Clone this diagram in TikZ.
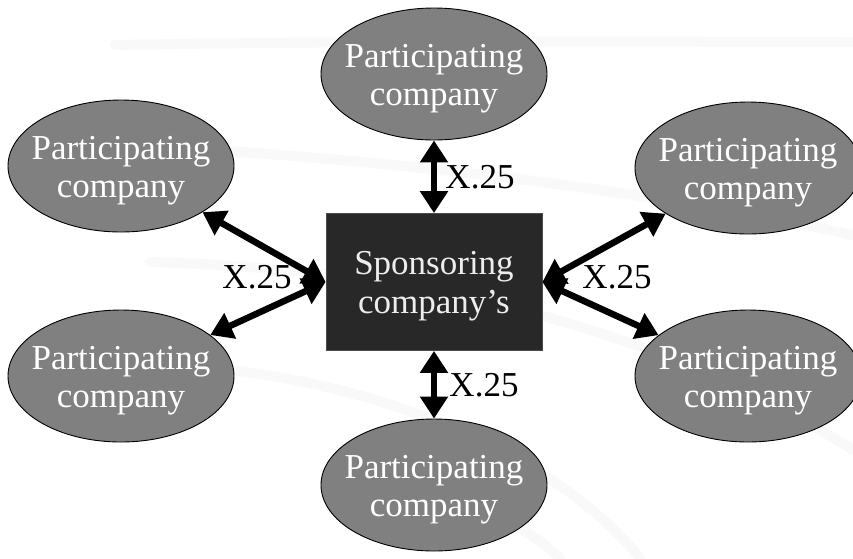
\documentclass[tikz,border=0pt]{standalone}
\usepackage{fontspec}
\setmainfont{Liberation Serif}
\usetikzlibrary{arrows.meta,shapes.geometric}
\definecolor{ellfill}{HTML}{808080}
\definecolor{boxfill}{HTML}{282828}
\definecolor{bgarc}{HTML}{F9F9F9}
\tikzset{
  partco/.style={ellipse, draw=black, line width=0.9pt, fill=ellfill,
    minimum width=226pt, minimum height=132pt, inner sep=0pt},
  ptext/.style={text=white, inner sep=0pt, align=center,
    font=\fontsize{35}{38.5}\selectfont},
  sponsor/.style={rectangle, draw=black!70, line width=0.8pt, fill=boxfill,
    minimum width=216pt, minimum height=137pt, inner sep=0pt},
  stext/.style={text=white!93!black, inner sep=0pt, align=center,
    font=\fontsize{35}{38.5}\selectfont},
  link/.style={line width=6.5pt, {Triangle[length=22pt,width=27pt]}-{Triangle[length=22pt,width=27pt]}},
  lbl/.style={font=\fontsize{35}{40}\selectfont, text=black, inner sep=0pt},
  bgband/.style={draw=bgarc, line width=10pt, line cap=round}
}
\begin{document}
\begin{tikzpicture}[x=1pt,y=-1pt]
\useasboundingbox (0,0) rectangle (853,558);
\fill[white] (0,0) rectangle (853,558);
% faint background bands
\draw[bgband] (115,45) .. controls (400,40) and (700,42) .. (853,42);
\draw[bgband] (20,140) .. controls (300,150) and (600,180) .. (853,235);
\draw[bgband] (150,262) .. controls (450,270) and (680,340) .. (853,450);
\draw[bgband] (230,370) .. controls (400,390) and (560,460) .. (640,558);
\draw[bgband] (380,470) .. controls (450,490) and (520,520) .. (560,558);
% nodes
\node[sponsor] (sp) at (434,282) {};
\node[partco] (t)  at (434,74)  {};
\node[partco] (b)  at (434,485) {};
\node[partco] (tl) at (121,166) {};
\node[partco] (bl) at (121,376) {};
\node[partco] (tr) at (748,168) {};
\node[partco] (br) at (748,376) {};
% node texts
\node[stext] (spt) at ([yshift=-4pt]sp.center) {Sponsoring\\company’s};
\foreach \n in {t,b,tl,bl,tr,br}{
  \node[ptext] (\n-txt) at ([yshift=-4.5pt]\n.center) {Participating\\company};
}
% connectors
\draw[link] (t) -- (sp);
\draw[link] (sp) -- (b);
\draw[link] (sp.west) -- (tl);
\draw[link] (sp.west) -- (bl);
\draw[link] (sp.east) -- (tr);
\draw[link] (sp.east) -- (br);
% labels
\node[lbl] (l1) at (480,177) {X.25};
\node[lbl] (l2) at (484,385) {X.25};
\node[lbl] (l3) at (257,277) {X.25};
\node[lbl] (l4) at (617,277) {X.25};
\end{tikzpicture}
\end{document}
